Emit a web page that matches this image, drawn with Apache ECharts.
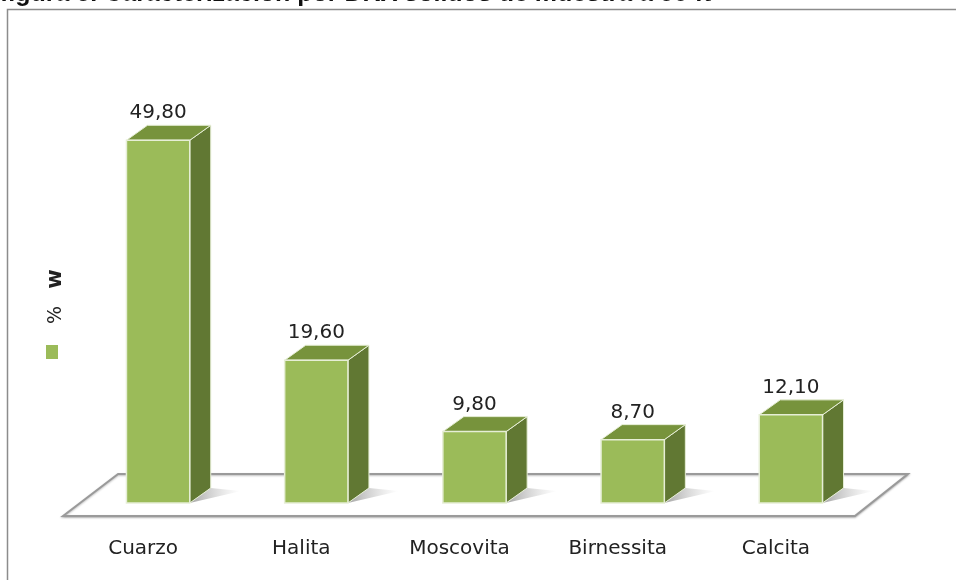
<!DOCTYPE html>
<html>
<head>
<meta charset="utf-8">
<script src="https://cdn.jsdelivr.net/npm/echarts@6/dist/echarts.min.js"></script>
<style>
  html, body { margin: 0; padding: 0; background: #fff; }
  #chart { width: 956px; height: 580px; }
</style>
</head>
<body>
<div id="chart"></div>
<script>
// datos
const minerales = ['Cuarzo', 'Halita', 'Moscovita', 'Birnessita', 'Calcita']
const porcentajes = [49.8, 19.6, 9.8, 8.7, 12.1]
const tituloFigura = 'figura 5. Caracterización por DRX sólidos de muestra a 90 ft'
const nombreSerie = '% w'

const chart = echarts.init(document.getElementById('chart'))

const colFront = '#9bbb59'
const colTop = '#77933c'
const colSide = '#617833'
const DX = 21
const DY = 15

// caja 3D para cada barra
const renderBar = (params, api) => {
  const top = api.coord([api.value(0), api.value(1)])
  const base = api.coord([api.value(0), 0])
  const bw = api.size([1, 0])[0] * 0.4
  const l = top[0] - bw / 2
  const r = top[0] + bw / 2
  const t = top[1]
  const b = base[1]
  return {
    type: 'group',
    children: [
      {
        type: 'polygon',
        shape: { points: [[r, b], [r + DX + 22, b - 10], [r + DX + 30, b - 12], [r + DX, b - DY]] },
        style: {
          fill: new echarts.graphic.LinearGradient(0, 0, 1, 0, [
            { offset: 0, color: 'rgba(90,90,90,0.55)' },
            { offset: 1, color: 'rgba(160,160,160,0)' }
          ])
        }
      },
      {
        type: 'polygon',
        shape: { points: [[r, b], [r + DX, b - DY], [r + DX, t - DY], [r, t]] },
        style: { fill: colSide, stroke: '#e6eed6', lineWidth: 1 }
      },
      {
        type: 'polygon',
        shape: { points: [[l, t], [r, t], [r + DX, t - DY], [l + DX, t - DY]] },
        style: { fill: colTop, stroke: '#e6eed6', lineWidth: 1 }
      },
      {
        type: 'rect',
        shape: { x: l, y: t, width: bw, height: b - t },
        style: { fill: colFront, stroke: '#e6eed6', lineWidth: 1.5 }
      },
      {
        type: 'text',
        x: top[0],
        y: t - DY - 2,
        style: {
          text: api.value(1).toFixed(2).replace('.', ','),
          font: '20px "DejaVu Sans"',
          fill: '#222',
          align: 'center',
          verticalAlign: 'bottom'
        }
      }
    ]
  }
}

// piso en perspectiva
const renderFloor = (params, api) => {
  const first = api.coord([0, 0])
  const last = api.coord([minerales.length - 1, 0])
  const yb = first[1]
  const fl = [first[0] - 95, yb + 13]
  const fr = [last[0] + 64, yb + 13]
  const br = [last[0] + 117, yb - 29]
  const bl = [first[0] - 40, yb - 29]
  return {
    type: 'polygon',
    shape: { points: [fl, fr, br, bl] },
    style: {
      fill: '#fff',
      stroke: '#9a9a9a',
      lineWidth: 2,
      shadowColor: 'rgba(0,0,0,0.25)',
      shadowBlur: 2,
      shadowOffsetY: 1
    }
  }
}

const option = {
  backgroundColor: '#fff',
  animation: false,
  grid: { left: 79, right: 86, top: 66, bottom: 77 },
  xAxis: {
    type: 'category',
    data: minerales,
    axisLine: { show: false },
    axisTick: { show: false },
    axisLabel: {
      color: '#222',
      fontFamily: 'DejaVu Sans',
      fontSize: 20,
      margin: 36,
      padding: [0, 30, 0, 0]
    }
  },
  yAxis: {
    type: 'value',
    min: 0,
    max: 60,
    show: false
  },
  graphic: [
    {
      type: 'rect',
      shape: { x: 7.5, y: 9.5, width: 1000, height: 600 },
      style: { fill: 'none', stroke: '#8c8c8c', lineWidth: 1.5 },
      z: -10
    },
    {
      type: 'text',
      x: 0,
      y: 7,
      style: {
        text: tituloFigura,
        font: 'bold 25px "Liberation Sans"',
        fill: '#111',
        verticalAlign: 'bottom'
      }
    },
    {
      type: 'rect',
      shape: { x: 46, y: 345, width: 12, height: 14 },
      style: { fill: colFront }
    },
    {
      type: 'text',
      x: 56,
      y: 315,
      rotation: Math.PI / 2,
      style: {
        text: '%',
        font: '19px "DejaVu Sans"',
        fill: '#222',
        align: 'center',
        verticalAlign: 'middle'
      }
    },
    {
      type: 'text',
      x: 56,
      y: 279,
      rotation: Math.PI / 2,
      style: {
        text: 'w',
        font: 'bold 21px "DejaVu Sans"',
        fill: '#222',
        align: 'center',
        verticalAlign: 'middle'
      }
    }
  ],
  series: [
    {
      type: 'custom',
      name: 'floor',
      renderItem: renderFloor,
      data: [[0, 0]],
      z: 1,
      silent: true
    },
    {
      type: 'custom',
      name: nombreSerie,
      renderItem: renderBar,
      data: porcentajes.map((v, i) => [i, v]),
      z: 2
    }
  ]
}

chart.setOption(option)
</script>
</body>
</html>
